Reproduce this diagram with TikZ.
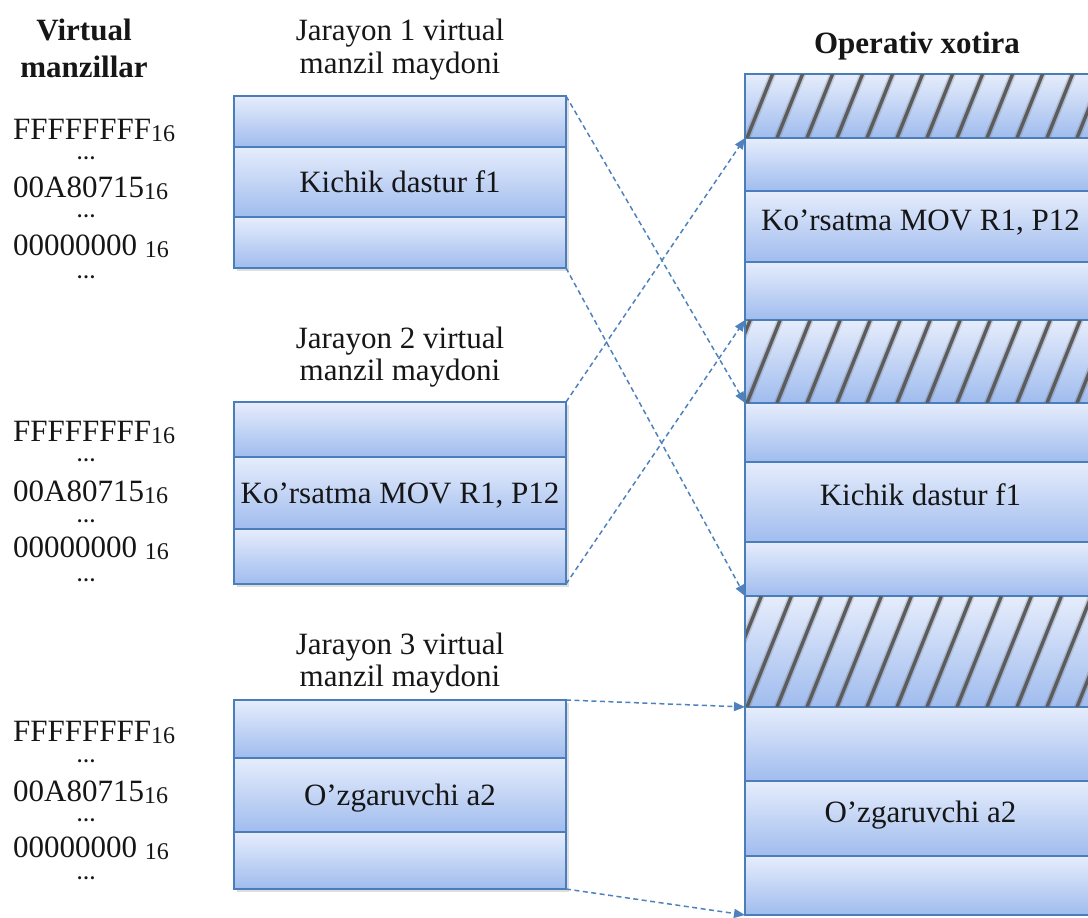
\documentclass[tikz,border=0pt]{standalone}
\usepackage{fontspec}
\setmainfont{Liberation Serif}
\usetikzlibrary{arrows.meta}

\definecolor{rowline}{RGB}{74,126,187}
\definecolor{rowtop}{RGB}{230,237,252}
\definecolor{rowbot}{RGB}{160,188,238}
\definecolor{linkblue}{RGB}{79,129,189}
\definecolor{hatchgray}{RGB}{92,92,92}
\definecolor{ink}{RGB}{22,22,22}

% small hexadecimal base index
\newcommand\hexsub[1]{\raisebox{-2pt}[\height][0pt]{\fontsize{24}{24}\selectfont #1}}

% one memory cell: name, x1, y1, x2, y2, extra style, text
\newcommand\cellnode[7]{%
  \node[cell,#6,minimum width={#4-#2},minimum height={#5-#3}] (#1) at (#2,#3) {#7};}

% diagonal hatching over an unused region of physical memory
\newcommand\hatchcell[2]{%
  \begin{scope}
    \clip (746,#1+0.8) rectangle (1096,#2-0.8);
    \pgfmathsetmacro\hdx{0.4*(#2-#1)}
    \foreach \hx in {687,717,...,1117} {
      \draw[hatchsoft] (\hx,#2) -- ++(\hdx,#1-#2);
      \draw[hatchline] (\hx,#2) -- ++(\hdx,#1-#2);
    }
  \end{scope}}

\tikzset{
  cell/.style={draw=rowline, line width=1.3pt, top color=rowtop, bottom color=rowbot,
    anchor=north west, inner sep=0pt, outer sep=0pt, text=ink,
    font=\fontsize{31}{36}\selectfont},
  lefttext/.style={text height=21pt, text depth=0pt},
  memtext/.style={text height=21pt, text depth=14pt},
  link/.style={draw=linkblue, line width=1.5pt, dash pattern=on 5pt off 3.5pt,
    -{Triangle[length=11pt,width=9pt]}},
  hatchline/.style={draw=hatchgray, line width=3.4pt},
  hatchsoft/.style={draw=hatchgray, line width=6.5pt, opacity=0.22},
  captxt/.style={anchor=base, inner sep=0pt, text=ink, font=\fontsize{31}{36}\selectfont},
  headtxt/.style={captxt, font=\fontsize{31}{36}\selectfont\bfseries},
  addr/.style={anchor=base west, inner sep=0pt, text=ink, font=\fontsize{31}{36}\selectfont},
  gapdots/.style={anchor=base, inner sep=0pt, text=ink, font=\fontsize{19}{19}\selectfont\bfseries},
  boxshadow/.style={fill=black, opacity=0.13}
}

\begin{document}
\begin{tikzpicture}[x=1pt,y=-1pt]
\useasboundingbox (0,0) rectangle (1088,918);

% headings
\node[headtxt] (vh1) at (84,41) {Virtual};
\node[headtxt] (vh2) at (84,77) {manzillar};
\node[headtxt] (oph) at (917,53) {Operativ xotira};

\node[captxt] (j1a) at (400,40)  {Jarayon 1 virtual};
\node[captxt] (j1b) at (400,73)  {manzil maydoni};
\node[captxt] (j2a) at (400,348) {Jarayon 2 virtual};
\node[captxt] (j2b) at (400,380) {manzil maydoni};
\node[captxt] (j3a) at (400,654) {Jarayon 3 virtual};
\node[captxt] (j3b) at (400,686) {manzil maydoni};

% virtual addresses of each process
\foreach \g/\yf/\ya/\yz/\da/\db/\dc in
  {1/139/197/255/159/217/278, 2/441/501/557/461/522/581, 3/741/801/857/762/821/879} {
  \node[addr] (hf\g) at (13,\yf) {FFFFFFFF\hexsub{16}};
  \node[addr] (ha\g) at (13,\ya) {00A80715\hexsub{16}};
  \node[addr] (hz\g) at (13,\yz) {00000000 \hexsub{16}};
  \node[gapdots] (dA\g) at (86,\da) {…};
  \node[gapdots] (dB\g) at (86,\db) {…};
  \node[gapdots] (dC\g) at (86,\dc) {…};
}

% shadows under the process address spaces
\fill[boxshadow] (237,99)  rectangle (569,271);
\fill[boxshadow] (237,405) rectangle (569,587);
\fill[boxshadow] (237,703) rectangle (569,892);

% process 1
\cellnode{a1}{234}{96}{566}{147}{}{}
\cellnode{a2}{234}{147}{566}{217}{lefttext}{Kichik dastur f1}
\cellnode{a3}{234}{217}{566}{268}{}{}
% process 2
\cellnode{b1}{234}{402}{566}{457}{}{}
\cellnode{b2}{234}{457}{566}{529}{lefttext}{Ko’rsatma MOV R1, P12}
\cellnode{b3}{234}{529}{566}{584}{}{}
% process 3
\cellnode{c1}{234}{700}{566}{758}{}{}
\cellnode{c2}{234}{758}{566}{832}{lefttext}{O’zgaruvchi a2}
\cellnode{c3}{234}{832}{566}{889}{}{}

% physical memory
\begin{scope}
\clip (0,0) rectangle (1088,918);
\cellnode{m1}{745}{74}{1096}{138}{}{}
\cellnode{m2}{745}{138}{1096}{191}{}{}
\cellnode{m3}{745}{191}{1096}{262}{memtext}{Ko’rsatma MOV R1, P12}
\cellnode{m4}{745}{262}{1096}{320}{}{}
\cellnode{m5}{745}{320}{1096}{403}{}{}
\cellnode{m6}{745}{403}{1096}{462}{}{}
\cellnode{m7}{745}{462}{1096}{542}{memtext}{Kichik dastur f1}
\cellnode{m8}{745}{542}{1096}{596}{}{}
\cellnode{m9}{745}{596}{1096}{707}{}{}
\cellnode{m10}{745}{707}{1096}{781}{}{}
\cellnode{m11}{745}{781}{1096}{856}{memtext}{O’zgaruvchi a2}
\cellnode{m12}{745}{856}{1096}{915}{}{}
\hatchcell{74}{138}
\hatchcell{320}{403}
\hatchcell{596}{707}
\end{scope}

% mapping of virtual pages to physical memory
\draw[link] (a1.north east) -- (m6.north west);
\draw[link] (a3.south east) -- (m9.north west);
\draw[link] (b1.north east) -- (m2.north west);
\draw[link] (b3.south east) -- (m5.north west);
\draw[link] (c1.north east) -- (m10.north west);
\draw[link] (c3.south east) -- (m12.south west);
\end{tikzpicture}
\end{document}
